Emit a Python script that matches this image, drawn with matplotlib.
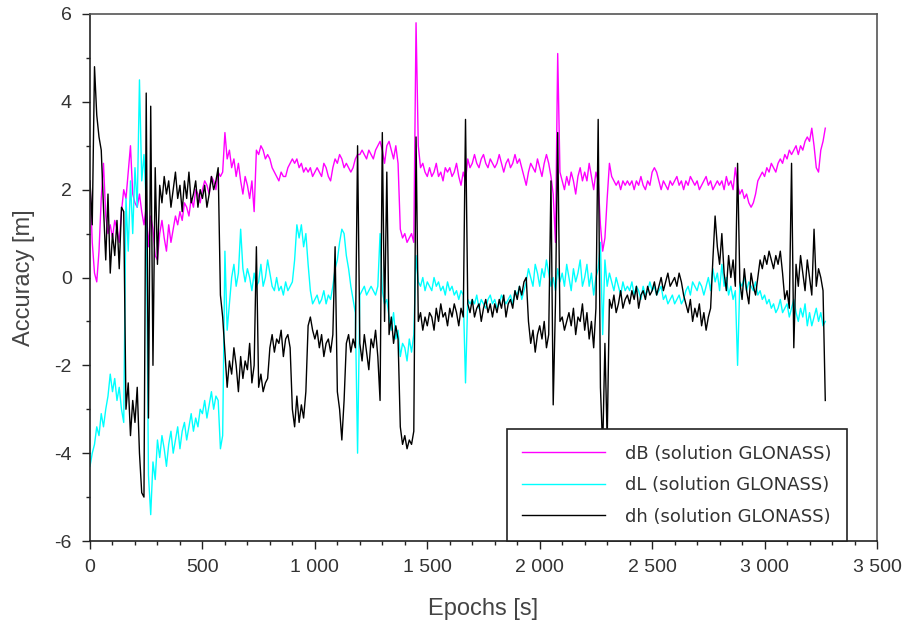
import numpy as np
import matplotlib
matplotlib.use("Agg")
import matplotlib.pyplot as plt
from matplotlib import font_manager
from matplotlib.ticker import MultipleLocator, FuncFormatter

plt.rcParams['axes.unicode_minus'] = False

t_step = 10

dB = [
    2.2, 0.8, 0.1, -0.1, 0.6, 1.8, 2.6, 1.4, 1.0, 1.2,
    0.9, 1.3, 1.1, 0.8, 1.5, 2.0, 1.8, 2.4, 3.0, 1.9,
    1.7, 1.6, 1.9, 1.5, 1.2, 1.6, 0.7, 1.4, 1.1, 0.5,
    0.4, 1.0, 1.3, 0.9, 0.6, 1.2, 0.8, 1.1, 1.4, 1.2,
    1.5, 1.3, 1.7, 1.6, 1.4, 1.8, 1.6, 2.0, 1.9, 1.7,
    2.0, 2.2, 2.1, 1.9, 2.3, 2.2, 2.0, 2.4, 2.3, 2.4,
    3.3, 2.7, 2.9, 2.5, 2.7, 2.3, 2.6, 2.2, 1.9, 2.3,
    2.1, 1.8, 2.2, 1.5, 2.9, 2.8, 3.0, 2.9, 2.7, 2.8,
    2.7, 2.5, 2.4, 2.3, 2.2, 2.4, 2.3, 2.3, 2.5, 2.6,
    2.7, 2.6, 2.7, 2.5, 2.6, 2.4, 2.5, 2.4, 2.5, 2.3,
    2.4, 2.5, 2.4, 2.3, 2.6, 2.5, 2.3, 2.2, 2.5, 2.7,
    2.6, 2.8, 2.7, 2.5, 2.6, 2.5, 2.4, 2.5, 2.7, 2.8,
    2.8, 2.9, 2.8, 2.7, 2.9, 2.8, 2.7, 2.9, 3.0, 3.1,
    2.9, 2.6, 3.0, 3.1, 2.9, 2.7, 3.0, 2.6, 1.1, 0.9,
    1.0, 0.8, 0.9, 1.0, 0.8, 5.8, 3.0, 2.5, 2.6, 2.4,
    2.3, 2.5, 2.3, 2.4, 2.6, 2.3, 2.4, 2.2, 2.5, 2.4,
    2.5, 2.3, 2.4, 2.6, 2.3, 2.1, 2.4, 2.2, 2.7, 2.5,
    2.6, 2.8, 2.6, 2.5, 2.7, 2.8, 2.6, 2.5, 2.7, 2.6,
    2.5, 2.6, 2.8, 2.6, 2.4, 2.6, 2.7, 2.5, 2.6, 2.8,
    2.6, 2.7, 2.5, 2.3, 2.1, 2.4, 2.6, 2.5, 2.4, 2.7,
    2.5, 2.3, 2.6, 2.8, 2.6, 2.3, 1.9, 0.8, 5.1, 2.4,
    2.2, 2.0, 2.3, 2.1, 2.4, 2.2, 1.9, 2.3, 2.5, 2.2,
    2.4, 2.2, 2.6, 2.3, 2.0, 2.4, 2.2, 1.2, 0.6, 0.9,
    1.8, 2.6, 2.3, 2.2, 2.1, 2.2, 2.0, 2.2, 2.1, 2.2,
    2.1, 2.2, 2.0, 2.2, 2.1, 2.3, 2.1, 2.0, 2.2, 2.1,
    2.4, 2.5, 2.4, 2.2, 2.0, 2.2, 2.1, 2.0, 2.2, 2.1,
    2.2, 2.3, 2.1, 2.2, 2.0, 2.2, 2.1, 2.3, 2.2, 2.1,
    2.2, 2.0, 2.1, 2.2, 2.3, 2.1, 2.2, 2.0, 2.1, 2.2,
    2.1, 2.2, 2.0, 2.3, 2.1, 2.2, 2.0, 2.5, 2.1, 1.9,
    2.0, 1.8, 1.9, 1.7, 1.6, 1.7, 1.9, 2.2, 2.3, 2.4,
    2.3, 2.5, 2.4, 2.6, 2.5, 2.4, 2.6, 2.7, 2.6, 2.8,
    2.7, 2.9, 2.8, 2.9, 3.0, 2.8, 3.0, 2.9, 3.1, 3.2,
    3.1, 3.4, 3.0, 2.5, 2.4, 2.9, 3.1, 3.4,
]

dL = [
    -4.3, -4.0, -3.8, -3.4, -3.6, -3.1, -3.4, -3.0, -2.7, -2.2,
    -2.6, -2.3, -2.8, -2.5, -3.0, -3.3, 1.8, 0.6, 2.2, 1.0,
    2.5, 1.6, 4.5, 2.2, 2.8, 1.7, -4.5, -5.4, -4.2, -4.6,
    -3.7, -4.1, -3.6, -3.9, -4.3, -3.8, -3.5, -4.0, -3.7, -3.4,
    -3.9, -3.5, -3.3, -3.7, -3.4, -3.1, -3.5, -3.2, -3.4, -3.0,
    -3.1, -2.8, -3.2, -2.9, -2.6, -3.0, -2.7, -2.8, -3.9, -3.6,
    0.6, -1.2, -0.6, 0.0, 0.3, -0.2, 0.1, 1.1, 0.2, -0.1,
    0.2, 0.0, -0.3, 0.1, -0.2, -0.1, 0.3, -0.2, 0.0, 0.4,
    0.1, -0.2, -0.3, 0.0, -0.3, -0.2, -0.4, -0.1, -0.3, -0.2,
    -0.1, 0.4, 1.2, 0.9, 1.2, 0.7, 1.0, 0.3, -0.3, -0.6,
    -0.5, -0.4, -0.6, -0.5, -0.3, -0.6, -0.4, -0.5, -0.2, 0.2,
    0.4, 0.8, 1.1, 1.0, 0.5, 0.2, -0.2, -0.5, -0.8, -4.0,
    -0.4, -0.3, -0.2, -0.4, -0.3, -0.2, -0.3, -0.4, -0.2, 1.0,
    -0.3, -0.6, -0.5, -0.9, -1.2, -0.8, -1.4, -1.2, -1.8, -1.5,
    -1.6, -1.9, -1.4, -1.7, -1.3, 0.5, -0.1, -0.2, 0.0, -0.3,
    -0.1, -0.2, -0.3, 0.0, -0.2, -0.1, -0.3, -0.2, -0.4, -0.1,
    -0.3, -0.2, -0.4, -0.3, -0.5, -0.3, -0.4, -2.4, -0.5, -0.6,
    -0.5, -0.6, -0.4, -0.7, -0.5, -0.6, -0.7, -0.5, -0.4, -0.6,
    -0.5, -0.7, -0.6, -0.4, -0.5, -0.6, -0.5, -0.4, -0.6, -0.3,
    -0.4, -0.2, -0.5, -0.3, -0.1, 0.2, 0.0, -0.2, 0.3, 0.1,
    -0.2, 0.2, 0.0, 0.4, 0.1, -0.2, 0.0, -0.3, 0.2, -0.1,
    0.1, -0.2, 0.3, 0.0, -0.3, 0.2, -0.1, 0.1, 0.4, -0.2,
    0.0, 0.3, -0.2, 0.1, -0.4, 0.0, 0.2, 0.8, -1.3, 0.4,
    -0.2, 0.1, -0.1, -0.3, 0.0, -0.2, -0.4, -0.1, -0.3, -0.2,
    -0.3, -0.1, -0.4, -0.2, -0.3, -0.5, -0.2, -0.4, -0.3, -0.1,
    -0.3, -0.2, -0.4, -0.3, -0.2, -0.5, -0.4, -0.6, -0.5, -0.4,
    -0.6, -0.5, -0.4, -0.6, -0.5, -0.3, -0.2, -0.4, -0.1, -0.2,
    -0.3, -0.1, -0.2, -0.4, -0.2, 0.0, -0.3, 0.2, -0.1, 0.1,
    -0.3, 0.3, -0.2, 0.0, -0.4, -0.2, -0.5, -0.3, -2.0, -0.1,
    -0.2, 0.0, -0.3, -0.1, -0.2, -0.3, -0.1, -0.4, -0.3, -0.5,
    -0.4, -0.6, -0.5, -0.7, -0.6, -0.8, -0.7, -0.5, -0.8, -0.7,
    -0.6, -0.9, -0.7, -0.5, -0.8, -1.0, -0.7, -0.9, -0.6, -1.1,
    -0.8, -1.1, -0.9, -0.7, -1.0, -0.8, -1.1, -1.0,
]

dh = [
    2.2, 1.2, 4.8, 3.7, 3.2, 2.9, 1.6, 0.4, 1.9, 0.1,
    1.0, 0.5, 1.3, 0.2, 1.6, 1.5, -3.0, -2.4, -3.6, -2.8,
    -3.3, -2.5, -4.0, -4.9, -5.0, 4.2, -3.2, 3.9, -2.0, 2.5,
    0.3, 2.1, 1.7, 2.3, 1.9, 2.2, 1.6, 2.0, 2.4, 1.8,
    2.1, 1.5, 2.2, 1.8, 2.4, 1.7, 1.9, 2.2, 1.6, 2.0,
    1.8, 2.1, 1.6, 1.9, 2.3, 2.0, 2.2, 2.5, -0.4, -0.9,
    -1.7, -2.5, -1.9, -2.2, -1.6, -2.0, -2.6, -1.8, -2.3, -1.9,
    -2.1, -1.5, -2.4, -2.0, 0.7, -2.5, -2.2, -2.6, -2.4, -2.3,
    -1.6, -1.3, -1.7, -1.4, -1.5, -1.2, -1.8, -1.4, -1.3, -1.6,
    -3.0, -3.4, -2.7, -3.3, -2.9, -3.2, -2.6, -1.1, -0.9, -1.2,
    -1.4, -1.2, -1.6, -1.3, -1.8, -1.5, -1.4, -1.7, -1.3, 0.7,
    -2.6, -3.0, -3.7, -2.8, -1.5, -1.3, -1.7, -1.4, -1.6, 3.0,
    -1.5, -1.9, -1.3, -1.7, -2.1, -1.4, -1.6, -1.2, -1.8, -2.8,
    3.3, -1.0, 2.4, -1.3, -0.9, -1.5, -1.1, -1.4, -3.4, -3.8,
    -3.6, -3.9, -3.7, -3.8, -3.5, 3.2, -1.0, -0.8, -1.2, -0.9,
    -1.1, -0.8, -0.9, -1.2, -0.7, -1.0, -0.6, -0.9, -0.8, -1.1,
    -0.7, -0.9, -0.6, -0.8, -1.1, -0.7, -0.9, 3.6, -0.6, -0.8,
    -0.5, -0.9, -0.7, -0.6, -1.0, -0.7, -0.5, -0.8, -0.6, -0.9,
    -0.6, -0.8, -0.5, -0.7, -0.4, -0.9, -0.6, -0.5, -0.7, -0.3,
    -0.5, -0.2, -0.4, -0.1, 0.0, -1.0, -1.5, -1.2, -1.7, -1.3,
    -1.1, -1.4, -1.0, -1.6, -1.3, 2.2, -2.9, -0.6, 3.3, -1.0,
    -0.9, -1.2, -1.0, -0.8, -1.1, -0.7, -1.3, -0.9, -1.0, -0.6,
    -1.2, -0.8, -1.4, -1.0, -1.6, -0.7, 3.6, -2.5, -3.9, -1.5,
    -3.7, -0.5, -0.7, -0.4, -0.8, -0.6, -0.3, -0.7, -0.5, -0.4,
    -0.6, -0.3, -0.5, -0.2, -0.7, -0.4, -0.3, -0.5, -0.2, -0.4,
    -0.3, -0.1, -0.4, -0.2, 0.0, -0.3, -0.1, 0.1, -0.2, -0.1,
    0.0, -0.2, 0.1, -0.1, -0.4, -0.6, -0.8, -0.5, -1.0, -0.7,
    -0.9, -0.6, -1.1, -0.8, -1.2, -0.9, -0.7, 0.4, 1.4, 0.7,
    0.3, 1.0, 0.1, -0.3, 0.5, 0.0, 0.4, -0.2, 2.6, -0.1,
    -0.5, 0.2, -0.3, -0.6, 0.1, -0.2, -0.4, 0.0, 0.4, 0.2,
    0.5, 0.3, 0.6, 0.4, 0.2, 0.5, 0.3, 0.6, 0.1, -0.5,
    -0.3, -0.7, 2.6, -1.6, 0.3, -0.2, 0.5, 0.1, -0.3, 0.4,
    0.0, -0.4, 1.1, -0.2, 0.2, 0.0, -0.3, -2.8,
]

labels = ["dB (solution GLONASS)", "dL (solution GLONASS)", "dh (solution GLONASS)"]
colors = ["#ff00ff", "#00ffff", "#000000"]

available = {f.name for f in font_manager.fontManager.ttflist}
narrow = "Liberation Sans Narrow" if "Liberation Sans Narrow" in available else "Liberation Sans"

t = np.arange(len(dB)) * t_step

fig = plt.figure(figsize=(9.07, 6.31), dpi=100)
ax = fig.add_axes([90 / 907, 90 / 631, 787 / 907, 527 / 631])

for series, lab, col in zip([dB, dL, dh], labels, colors):
    ax.plot(t, series, color=col, lw=1.0, label=lab)

ax.set_xlim(0, 3500)
ax.set_ylim(-6, 6)
ax.xaxis.set_major_locator(MultipleLocator(500))
ax.xaxis.set_minor_locator(MultipleLocator(100))
ax.yaxis.set_major_locator(MultipleLocator(2))
ax.yaxis.set_minor_locator(MultipleLocator(1))


def thousands(v, pos):
    return f"{int(v):,}".replace(",", " ")


ax.xaxis.set_major_formatter(FuncFormatter(thousands))
ax.tick_params(which='major', direction='out', length=6, width=1, colors='#222222',
               labelsize=14, labelcolor='#333333', top=False, right=False, pad=7)
ax.tick_params(which='minor', direction='out', length=3, width=1, colors='#222222',
               top=False, right=False)
for lbl in ax.get_xticklabels() + ax.get_yticklabels():
    lbl.set_family(narrow)
for s in ['left', 'bottom']:
    ax.spines[s].set_linewidth(1.2)
    ax.spines[s].set_color('#222222')
for s in ['top', 'right']:
    ax.spines[s].set_linewidth(1.2)
    ax.spines[s].set_color('#555555')

ax.set_xlabel("Epochs [s]", fontsize=17, color='#444444', labelpad=16, family=narrow)
ax.set_ylabel("Accuracy [m]", fontsize=17, color='#444444', labelpad=14, family=narrow)

leg = ax.legend(loc='lower right', bbox_to_anchor=((847 - 90) / 787, 0.0),
                borderaxespad=0, prop={'size': 13}, frameon=True, fancybox=False,
                edgecolor='#222222', framealpha=1.0, handlelength=4.6,
                handletextpad=1.1, labelspacing=0.75, borderpad=0.85)
leg.get_frame().set_linewidth(1.2)
for txt in leg.get_texts():
    txt.set_color('#333333')

fig.savefig("out.png", dpi=100)
